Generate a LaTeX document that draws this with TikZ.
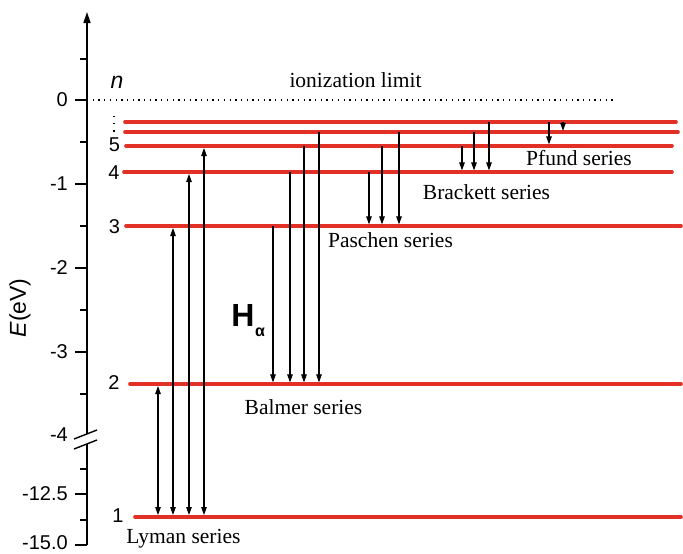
\documentclass[tikz,border=0pt]{standalone}
\usepackage{fontspec}
\setmainfont{Liberation Serif}
\setsansfont{Liberation Sans}
\usetikzlibrary{arrows.meta}
\definecolor{lvl}{RGB}{226,48,38}
\begin{document}
\begin{tikzpicture}[x=1pt,y=-1pt,
  level/.style={draw=lvl,line width=3.6pt,line cap=round},
  trans/.style={line width=1.1pt,-{Triangle[length=8pt,width=5.5pt]},shorten >=1.6pt},
  both/.style={line width=1.1pt,{Triangle[length=8pt,width=5.5pt]}-{Triangle[length=8pt,width=5.5pt]},shorten >=2pt,shorten <=2pt},
  ticklab/.style={font=\sffamily\fontsize{20}{20}\selectfont,anchor=east,inner sep=0pt},
  numlab/.style={font=\sffamily\fontsize{20}{20}\selectfont,inner sep=0pt},
  serlab/.style={font=\fontsize{21.5}{21.5}\selectfont,inner sep=0pt,anchor=base},
  major/.style={line width=1.6pt},
]
\useasboundingbox (0,0) rectangle (683,554);

% axis
\coordinate (axbot) at (87,545);
\coordinate (axbrk1) at (87,444);
\coordinate (axbrk2) at (87,434);
\coordinate (axtop) at (87,12);
\draw[line width=1.6pt] (axbot) -- (axbrk1);
\draw[line width=1.6pt,-{Triangle[length=11pt,width=7pt]}] (axbrk2) -- (axtop);
\coordinate (s1a) at (74,439); \coordinate (s1b) at (97,430);
\coordinate (s2a) at (74,449); \coordinate (s2b) at (97,440);
\draw[line width=1.4pt] (s1a) -- (s1b);
\draw[line width=1.4pt] (s2a) -- (s2b);

% ticks
\foreach \yy in {100,184,268,352,494,545} \draw[major] (75,\yy) -- (87,\yy);
\foreach \yy in {59,142,226,310,394,469,520} \draw[major] (80,\yy) -- (87,\yy);
\node[ticklab] (t0) at (68,100) {0};
\node[ticklab] (t1) at (68,184) {-1};
\node[ticklab] (t2) at (68,268) {-2};
\node[ticklab] (t3) at (68,352) {-3};
\node[ticklab] (t4) at (68,435) {-4};
\node[ticklab] (t12) at (68,494) {-12.5};
\node[ticklab] (t15) at (68,543) {-15.0};
\node[font=\sffamily\fontsize{23}{23}\selectfont,rotate=90,inner sep=0pt] (elab) at (20,308) {\textit{E}(eV)};

% ionization limit
\coordinate (ionA) at (87,100);
\coordinate (ionB) at (613,100);
\draw[line width=1.2pt,dash pattern=on 1.3pt off 4.4pt] (ionA) -- (ionB);
\node[serlab] (ion) at (355.5,87) {ionization limit};
\node[font=\sffamily\itshape\fontsize{23}{23}\selectfont,inner sep=0pt] (nlab) at (117,82) {n};

% levels
\coordinate (L1a) at (135,517); \coordinate (L1b) at (681,517);
\coordinate (L2a) at (130,384); \coordinate (L2b) at (681,384);
\coordinate (L3a) at (126,226); \coordinate (L3b) at (681,226);
\coordinate (L4a) at (124,172); \coordinate (L4b) at (672,172);
\coordinate (L5a) at (126,146); \coordinate (L5b) at (672,146);
\coordinate (L6a) at (125,132); \coordinate (L6b) at (678,132);
\coordinate (L7a) at (125,122); \coordinate (L7b) at (676,122);
\foreach \i in {1,...,7} \draw[level] (L\i a) -- (L\i b);

% level numbers
\node[numlab] (n5) at (114.5,145) {5};
\node[numlab] (n4) at (114,173) {4};
\node[numlab] (n3) at (114.5,227) {3};
\node[numlab] (n2) at (114,383) {2};
\node[numlab] (n1) at (118,515.5) {1};
\coordinate (dA) at (114,116);
\coordinate (dB) at (114,134);
\draw[line width=1.2pt,dash pattern=on 1.2pt off 6pt] (dA) -- (dB);

% columns
\coordinate (cL1) at (158,0); \coordinate (cL2) at (173,0);
\coordinate (cL3) at (189,0); \coordinate (cL4) at (204,0);
\coordinate (cB1) at (273,0); \coordinate (cB2) at (290,0);
\coordinate (cB3) at (304,0); \coordinate (cB4) at (319,0);
\coordinate (cP1) at (369,0); \coordinate (cP2) at (382,0);
\coordinate (cP3) at (399,0);
\coordinate (cR1) at (462,0); \coordinate (cR2) at (474,0);
\coordinate (cR3) at (489,0);
\coordinate (cF1) at (549,0); \coordinate (cF2) at (563,0);

% Lyman
\draw[both] (cL1 |- L1a) -- (cL1 |- L2a);
\draw[both] (cL2 |- L1a) -- (cL2 |- L3a);
\draw[both] (cL3 |- L1a) -- (cL3 |- L4a);
\draw[both] (cL4 |- L1a) -- (cL4 |- L5a);
% Balmer
\draw[trans] (cB1 |- L3a) -- (cB1 |- L2a);
\draw[trans] (cB2 |- L4a) -- (cB2 |- L2a);
\draw[trans] (cB3 |- L5a) -- (cB3 |- L2a);
\draw[trans] (cB4 |- L6a) -- (cB4 |- L2a);
% Paschen
\draw[trans] (cP1 |- L4a) -- (cP1 |- L3a);
\draw[trans] (cP2 |- L5a) -- (cP2 |- L3a);
\draw[trans] (cP3 |- L6a) -- (cP3 |- L3a);
% Brackett
\draw[trans] (cR1 |- L5a) -- (cR1 |- L4a);
\draw[trans] (cR2 |- L6a) -- (cR2 |- L4a);
\draw[trans] (cR3 |- L7a) -- (cR3 |- L4a);
% Pfund
\draw[trans] (cF1 |- L7a) -- (cF1 |- L5a);
\draw[trans,shorten >=1.2pt] (cF2 |- L7a) -- (cF2 |- L6a);

% series labels
\node[serlab] (lyman) at (183.5,543) {Lyman series};
\node[serlab] (balmer) at (303.5,414) {Balmer series};
\node[serlab] (paschen) at (390.5,247) {Paschen series};
\node[serlab] (brackett) at (486.5,199) {Brackett series};
\node[serlab] (pfund) at (579,165) {Pfund series};

% H alpha
\node[font=\sffamily\bfseries\fontsize{32}{32}\selectfont,inner sep=0pt] (H) at (243,315) {H};
\node[font=\sffamily\bfseries\fontsize{16}{16}\selectfont,inner sep=0pt] (alpha) at (260,332) {α};
\end{tikzpicture}
\end{document}
